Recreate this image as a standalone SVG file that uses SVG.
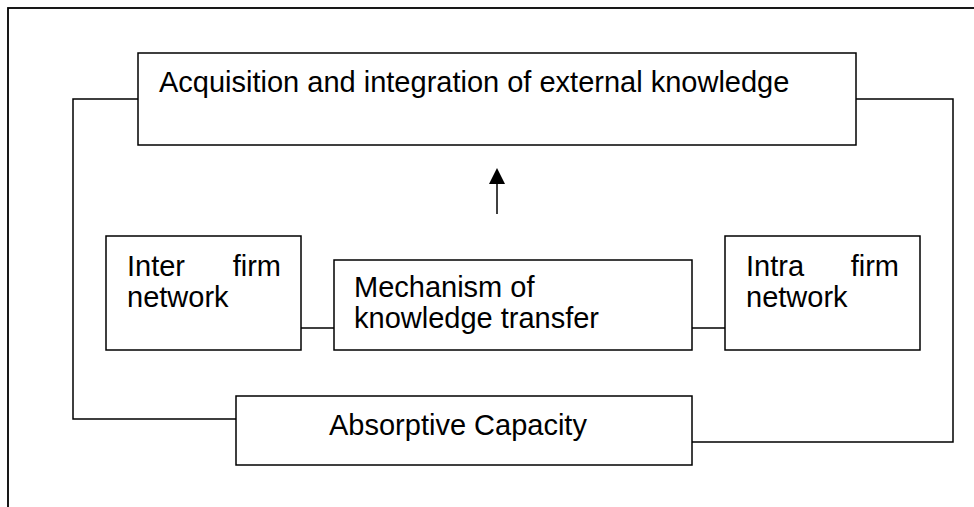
<svg xmlns="http://www.w3.org/2000/svg" width="974" height="507" viewBox="0 0 974 507">
<style>
.box{fill:#fff;stroke:#000;stroke-width:1.5}
.ln{fill:none;stroke:#000;stroke-width:1.5}
text{font-family:"Liberation Sans",Arial,sans-serif;font-size:29px;fill:#000}
</style>
<rect x="8" y="8" width="1000" height="600" fill="none" stroke="#000" stroke-width="1.8"/>
<g id="connectors">
<polyline class="ln" points="138,99 73,99 73,419 236,419"/>
<polyline class="ln" points="692,442 953,442 953,99 856,99"/>
<line class="ln" x1="301" y1="328" x2="334" y2="328"/>
<line class="ln" x1="692" y1="328" x2="725" y2="328"/>
<line class="ln" x1="497" y1="214" x2="497" y2="183"/>
<polygon points="489,184 505,184 497,168" fill="#000"/>
</g>
<g id="acquisition">
<rect class="box" x="138" y="53" width="718" height="92"/>
<text x="159" y="92">Acquisition and integration of external knowledge</text>
</g>
<g id="inter">
<rect class="box" x="106" y="236" width="195" height="114"/>
<text x="127" y="276">Inter</text>
<text x="281" y="276" text-anchor="end">firm</text>
<text x="127" y="307">network</text>
</g>
<g id="mechanism">
<rect class="box" x="334" y="260" width="358" height="90"/>
<text x="354" y="297">Mechanism of</text>
<text x="354" y="328">knowledge transfer</text>
</g>
<g id="intra">
<rect class="box" x="725" y="236" width="195" height="114"/>
<text x="746" y="276">Intra</text>
<text x="899" y="276" text-anchor="end">firm</text>
<text x="746" y="307">network</text>
</g>
<g id="absorptive">
<rect class="box" x="236" y="396" width="456" height="69"/>
<text x="329" y="435">Absorptive Capacity</text>
</g>
</svg>
